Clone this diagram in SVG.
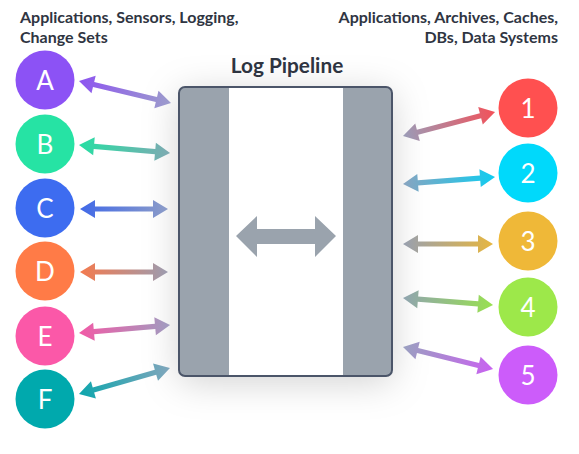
<svg xmlns="http://www.w3.org/2000/svg" width="579" height="454" viewBox="0 0 579 454">
<style>
.hdr{font-family:Lato,"Open Sans","Liberation Sans",sans-serif;font-weight:700;font-size:16px;fill:#2f3542}
.title{font-family:Lato,"Open Sans","Liberation Sans",sans-serif;font-weight:700;font-size:20.8px;fill:#2f3542}
.lbl{font-family:Lato,"Open Sans","Liberation Sans",sans-serif;font-weight:400;font-size:26px;fill:#ffffff}
.band{fill:#9aa3ad}
</style>
<defs>
<filter id="glow" x="-50%" y="-50%" width="200%" height="200%">
<feGaussianBlur in="SourceAlpha" stdDeviation="18"/>
<feOffset dy="6" result="b"/>
<feFlood flood-color="#000" flood-opacity="0.18"/>
<feComposite in2="b" operator="in"/>
<feMerge><feMergeNode/><feMergeNode in="SourceGraphic"/></feMerge>
</filter>
<linearGradient id="gA"><stop offset="0" stop-color="#8d55f0"/><stop offset="1" stop-color="#9c9ccc"/></linearGradient>
<linearGradient id="gB"><stop offset="0" stop-color="#27dea3"/><stop offset="1" stop-color="#7eaab2"/></linearGradient>
<linearGradient id="gC"><stop offset="0" stop-color="#4169e8"/><stop offset="1" stop-color="#8c9cc8"/></linearGradient>
<linearGradient id="gD"><stop offset="0" stop-color="#f47a4e"/><stop offset="1" stop-color="#9c9cb0"/></linearGradient>
<linearGradient id="gE"><stop offset="0" stop-color="#f25aa6"/><stop offset="1" stop-color="#a09cc0"/></linearGradient>
<linearGradient id="gF"><stop offset="0" stop-color="#0ea6ad"/><stop offset="1" stop-color="#80a6bc"/></linearGradient>
<linearGradient id="g1"><stop offset="0" stop-color="#9a9cb8"/><stop offset="1" stop-color="#f2525a"/></linearGradient>
<linearGradient id="g2"><stop offset="0" stop-color="#88a4c0"/><stop offset="1" stop-color="#10ccf0"/></linearGradient>
<linearGradient id="g3"><stop offset="0" stop-color="#98a0b0"/><stop offset="1" stop-color="#e6b640"/></linearGradient>
<linearGradient id="g4"><stop offset="0" stop-color="#90a4b0"/><stop offset="1" stop-color="#98e050"/></linearGradient>
<linearGradient id="g5"><stop offset="0" stop-color="#9aa0c0"/><stop offset="1" stop-color="#c862f0"/></linearGradient>
</defs>
<rect width="579" height="454" fill="#ffffff"/>

<text class="hdr" x="20" y="23">Applications, Sensors, Logging,</text>
<text class="hdr" x="20" y="43">Change Sets</text>
<text class="hdr" x="558" y="23" text-anchor="end">Applications, Archives, Caches,</text>
<text class="hdr" x="558" y="43" text-anchor="end">DBs, Data Systems</text>

<g id="pipeline">
<text class="title" x="287" y="73" text-anchor="middle">Log Pipeline</text>
<g filter="url(#glow)">
<rect x="179" y="87" width="213" height="289" rx="6" fill="#ffffff"/>
</g>
<path class="band" d="M185,87 H229 V376 H185 A6,6 0 0 1 179,370 V93 A6,6 0 0 1 185,87 Z"/>
<path class="band" d="M343,87 H386 A6,6 0 0 1 392,93 V370 A6,6 0 0 1 386,376 H343 Z"/>
<rect x="179" y="87" width="213" height="289" rx="6" fill="none" stroke="#4b5569" stroke-width="2"/>
<path d="M236,236 L257,216 L257,229 L315,229 L315,216 L336,236 L315,257 L315,244 L257,244 L257,257 Z" fill="#9aa3ad"/>
</g>

<g id="connectors">
<path transform="translate(79,81) rotate(13.45)" fill="url(#gA)" d="M0,0 L15,-9 L15,-2.6 L79.6,-2.6 L79.6,-9 L94.6,0 L79.6,9 L79.6,2.6 L15,2.6 L15,9 Z"/>
<path transform="translate(79,145) rotate(5.02)" fill="url(#gB)" d="M0,0 L15,-9 L15,-2.6 L76.4,-2.6 L76.4,-9 L91.4,0 L76.4,9 L76.4,2.6 L15,2.6 L15,9 Z"/>
<path transform="translate(80,209)" fill="url(#gC)" d="M0,0 L15,-9 L15,-2.6 L73,-2.6 L73,-9 L88,0 L73,9 L73,2.6 L15,2.6 L15,9 Z"/>
<path transform="translate(80,272)" fill="url(#gD)" d="M0,0 L15,-9 L15,-2.6 L73,-2.6 L73,-9 L88,0 L73,9 L73,2.6 L15,2.6 L15,9 Z"/>
<path transform="translate(79,333) rotate(-5.02)" fill="url(#gE)" d="M0,0 L15,-9 L15,-2.6 L76.4,-2.6 L76.4,-9 L91.4,0 L76.4,9 L76.4,2.6 L15,2.6 L15,9 Z"/>
<path transform="translate(79,394) rotate(-15.95)" fill="url(#gF)" d="M0,0 L15,-9 L15,-2.6 L79.6,-2.6 L79.6,-9 L94.6,0 L79.6,9 L79.6,2.6 L15,2.6 L15,9 Z"/>
<path transform="translate(403,136) rotate(-14.62)" fill="url(#g1)" d="M0,0 L15,-9 L15,-2.6 L80.1,-2.6 L80.1,-9 L95.1,0 L80.1,9 L80.1,2.6 L15,2.6 L15,9 Z"/>
<path transform="translate(403,184) rotate(-4.35)" fill="url(#g2)" d="M0,0 L15,-9 L15,-2.6 L77.3,-2.6 L77.3,-9 L92.3,0 L77.3,9 L77.3,2.6 L15,2.6 L15,9 Z"/>
<path transform="translate(403,244)" fill="url(#g3)" d="M0,0 L15,-9 L15,-2.6 L75,-2.6 L75,-9 L90,0 L75,9 L75,2.6 L15,2.6 L15,9 Z"/>
<path transform="translate(403,298) rotate(4.45)" fill="url(#g4)" d="M0,0 L15,-9 L15,-2.6 L75.3,-2.6 L75.3,-9 L90.3,0 L75.3,9 L75.3,2.6 L15,2.6 L15,9 Z"/>
<path transform="translate(403,347) rotate(13.74)" fill="url(#g5)" d="M0,0 L15,-9 L15,-2.6 L77.7,-2.6 L77.7,-9 L92.7,0 L77.7,9 L77.7,2.6 L15,2.6 L15,9 Z"/>
</g>

<g id="nodeA"><circle cx="45" cy="80" r="29.5" fill="#8c52f5"/><text class="lbl" x="45" y="89.5" text-anchor="middle">A</text></g>
<g id="nodeB"><circle cx="45" cy="144" r="29.5" fill="#26e3a4"/><text class="lbl" x="45" y="153.5" text-anchor="middle">B</text></g>
<g id="nodeC"><circle cx="45" cy="208" r="29.5" fill="#3d6cf0"/><text class="lbl" x="45" y="217.5" text-anchor="middle">C</text></g>
<g id="nodeD"><circle cx="45" cy="271" r="29.5" fill="#ff7b47"/><text class="lbl" x="45" y="280.5" text-anchor="middle">D</text></g>
<g id="nodeE"><circle cx="45" cy="336" r="29.5" fill="#fb58a8"/><text class="lbl" x="45" y="345.5" text-anchor="middle">E</text></g>
<g id="nodeF"><circle cx="45" cy="399" r="29.5" fill="#00a9ad"/><text class="lbl" x="45" y="408.5" text-anchor="middle">F</text></g>
<g id="node1"><circle cx="528" cy="108" r="29.5" fill="#ff5050"/><text class="lbl" x="528" y="117.5" text-anchor="middle">1</text></g>
<g id="node2"><circle cx="528" cy="173" r="29.5" fill="#00d9fb"/><text class="lbl" x="528" y="182.5" text-anchor="middle">2</text></g>
<g id="node3"><circle cx="528" cy="241" r="29.5" fill="#efb838"/><text class="lbl" x="528" y="250.5" text-anchor="middle">3</text></g>
<g id="node4"><circle cx="528" cy="307" r="29.5" fill="#9de84a"/><text class="lbl" x="528" y="316.5" text-anchor="middle">4</text></g>
<g id="node5"><circle cx="528" cy="375" r="29.5" fill="#cc5cfa"/><text class="lbl" x="528" y="384.5" text-anchor="middle">5</text></g>
</svg>
